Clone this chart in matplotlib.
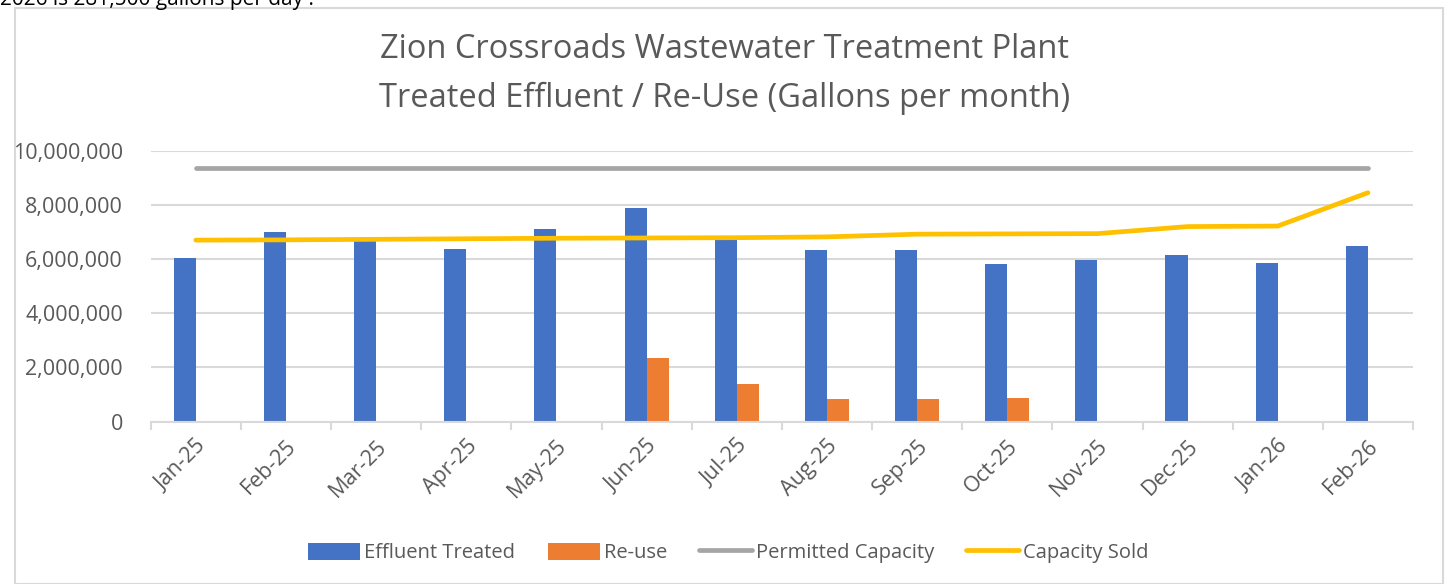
import numpy as np
import matplotlib
matplotlib.use("Agg")
import matplotlib.pyplot as plt
from matplotlib.patches import Rectangle
from matplotlib.ticker import FuncFormatter, FixedLocator

plt.rcParams['font.family'] = ['Open Sans', 'DejaVu Sans']

months = ["Jan-25", "Feb-25", "Mar-25", "Apr-25", "May-25", "Jun-25", "Jul-25",
          "Aug-25", "Sep-25", "Oct-25", "Nov-25", "Dec-25", "Jan-26", "Feb-26"]
effluent = [6040000, 7000000, 6650000, 6370000, 7100000, 7890000, 6700000,
            6330000, 6330000, 5820000, 5970000, 6150000, 5850000, 6480000]
reuse = [0, 0, 0, 0, 0, 2350000, 1390000, 840000, 840000, 870000, 0, 0, 0, 0]
permitted = [9360000] * 14
sold = [6700000, 6710000, 6730000, 6750000, 6770000, 6780000, 6790000,
        6820000, 6920000, 6930000, 6940000, 7200000, 7220000, 8450000]

W, H = 1449, 584
fig = plt.figure(figsize=(W / 100, H / 100), dpi=100)

# chart frame
fig.patches.append(Rectangle((15 / W, 0), (1443 - 15) / W, 1 - 8 / H,
                             transform=fig.transFigure, fill=False,
                             edgecolor="#d9d9d9", lw=1.5))
# note above the chart, cut by the page edge like in the source
fig.text(0, 1 - 5 / H, "2026 is 281,500 gallons per day .", fontsize=15,
         color="#000000", ha="left", va="baseline")

ax = fig.add_axes([150.7 / W, 1 - 421.7 / H, (1413 - 150.7) / W, (421.7 - 150.7) / H])

x = np.arange(len(months))
w = 0.245
b1 = ax.bar(x - w / 2, effluent, w, color="#4472c4", label="Effluent Treated", zorder=2)
b2 = ax.bar(x + w / 2, reuse, w, color="#ed7d31", label="Re-use", zorder=2)
l1, = ax.plot(x, permitted, color="#a5a5a5", lw=3.4, solid_capstyle="round",
              label="Permitted Capacity", zorder=3)
l2, = ax.plot(x, sold, color="#ffc000", lw=3.4, solid_capstyle="round",
              label="Capacity Sold", zorder=3)

ax.set_xlim(-0.5, len(months) - 0.5)
ax.set_ylim(0, 10000000)
ax.set_yticks(np.arange(0, 10000001, 2000000))
ax.yaxis.set_major_formatter(FuncFormatter(lambda v, p: f"{int(v):,}"))
ax.grid(axis="y", color="#d9d9d9", lw=1.5, zorder=0)
ax.set_axisbelow(True)

ax.set_xticks(x)
ax.set_xticklabels(months, rotation=45, ha="right", rotation_mode="anchor")
ax.xaxis.set_minor_locator(FixedLocator(np.arange(-0.5, len(months), 1)))
ax.tick_params(axis="x", which="major", length=0, pad=10, labelsize=15.5, colors="#595959")
ax.tick_params(axis="x", which="minor", length=6, width=1.5, color="#d9d9d9")
ax.tick_params(axis="y", length=0, pad=20, labelsize=15.5, colors="#595959")
for s in ["top", "right", "left"]:
    ax.spines[s].set_visible(False)
ax.spines["bottom"].set_color("#d9d9d9")
ax.spines["bottom"].set_linewidth(1.5)

fig.text(725 / W, 1 - 50 / H, "Zion Crossroads Wastewater Treatment Plant",
         ha="center", va="center", fontsize=23.5, color="#595959")
fig.text(725 / W, 1 - 98 / H, "Treated Effluent / Re-Use (Gallons per month)",
         ha="center", va="center", fontsize=23.5, color="#595959")

fig.legend([b1, b2, l1, l2],
           ["Effluent Treated", "Re-use", "Permitted Capacity", "Capacity Sold"],
           loc="center", bbox_to_anchor=(728 / W, 1 - 553 / H), ncol=4,
           frameon=False, fontsize=14.5, labelcolor="#595959",
           handlelength=2.6, handleheight=0.9, columnspacing=1.6, handletextpad=0.2)

fig.savefig("out.png", dpi=100)
